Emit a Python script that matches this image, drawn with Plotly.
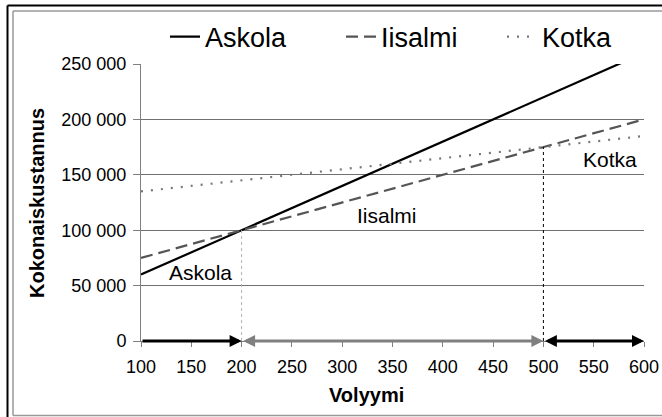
import plotly.graph_objects as go

volume = [100, 150, 200, 250, 300, 350, 400, 450, 500, 550, 600]
askola = [60000, 80000, 100000, 120000, 140000, 160000, 180000, 200000, 220000, 240000, 260000]
iisalmi = [75000, 87500, 100000, 112500, 125000, 137500, 150000, 162500, 175000, 187500, 200000]
kotka = [135000, 140000, 145000, 150000, 155000, 160000, 165000, 170000, 175000, 180000, 185000]
y_ticks = [0, 50000, 100000, 150000, 200000, 250000]
y_labels = ["0", "50 000", "100 000", "150 000", "200 000", "250 000"]
x_ticks = [100, 150, 200, 250, 300, 350, 400, 450, 500, 550, 600]

W, H = 662, 417
L, R, T, B = 141, 644, 64, 341

def px(x):
    return (x - L) / (R - L)

def py(y):
    return (B - y) / (B - T)

FONT = "Liberation Sans, Arial, sans-serif"

fig = go.Figure()
fig.add_trace(go.Scatter(x=volume, y=askola, mode="lines", name="Askola", legend="legend",
                         line=dict(color="#000000", width=2.2)))
fig.add_trace(go.Scatter(x=volume, y=iisalmi, mode="lines", name="Iisalmi", legend="legend2",
                         line=dict(color="#555555", width=2.2, dash="12px,6px")))
fig.add_trace(go.Scatter(x=volume, y=kotka, mode="lines", name="Kotka", legend="legend3",
                         line=dict(color="#777777", width=2.2, dash="2px,8px")))

shapes = [
    dict(type="line", xref="x", yref="y", x0=200, x1=200, y0=0, y1=100000,
         line=dict(color="#b0b0b0", width=1, dash="dot")),
    dict(type="line", xref="x", yref="y", x0=500, x1=500, y0=0, y1=175000,
         line=dict(color="#000000", width=1, dash="dot")),
    dict(type="line", xref="paper", yref="paper", x0=px(7.5), x1=px(700), y0=py(5.5), y1=py(5.5),
         line=dict(color="#000000", width=2)),
    dict(type="line", xref="paper", yref="paper", x0=px(7.5), x1=px(7.5), y0=py(5.5), y1=py(440),
         line=dict(color="#000000", width=2)),
    dict(type="line", xref="paper", yref="paper", x0=px(13), x1=px(700), y0=py(11), y1=py(11),
         line=dict(color="#999999", width=1.5)),
    dict(type="line", xref="paper", yref="paper", x0=px(13), x1=px(13), y0=py(11), y1=py(415.5),
         line=dict(color="#999999", width=1.5)),
    dict(type="line", xref="paper", yref="paper", x0=px(13), x1=px(700), y0=py(415.5), y1=py(415.5),
         line=dict(color="#999999", width=1.5)),
]

annotations = [
    dict(x=200, y=0, ax=100, ay=0, xref="x", yref="y", axref="x", ayref="y", text="",
         showarrow=True, arrowhead=2, arrowsize=0.8, arrowwidth=3, arrowcolor="#000000",
         arrowside="end"),
    dict(x=500, y=0, ax=200, ay=0, xref="x", yref="y", axref="x", ayref="y", text="",
         showarrow=True, arrowhead=2, arrowsize=0.8, arrowwidth=3, arrowcolor="#808080",
         arrowside="end+start"),
    dict(x=600, y=0, ax=500, ay=0, xref="x", yref="y", axref="x", ayref="y", text="",
         showarrow=True, arrowhead=2, arrowsize=0.8, arrowwidth=3, arrowcolor="#000000",
         arrowside="end+start"),
    dict(x=159, y=62000, xref="x", yref="y", text="Askola", showarrow=False,
         font=dict(family=FONT, size=21, color="#000000")),
    dict(x=345, y=113500, xref="x", yref="y", text="Iisalmi", showarrow=False,
         font=dict(family=FONT, size=21, color="#000000")),
    dict(x=566, y=164000, xref="x", yref="y", text="Kotka", showarrow=False,
         font=dict(family=FONT, size=21, color="#000000")),
    dict(x=px(366), y=py(395), xref="paper", yref="paper", text="<b>Volyymi</b>",
         xanchor="center", yanchor="middle",
         showarrow=False, font=dict(family=FONT, size=20, color="#000000")),
    dict(x=px(37), y=py(203), xref="paper", yref="paper", text="<b>Kokonaiskustannus</b>",
         xanchor="center", yanchor="middle",
         showarrow=False, textangle=-90, font=dict(family=FONT, size=20, color="#000000")),
]

def legend_at(xpix):
    return dict(orientation="h", xref="container", yref="container",
                x=xpix / W, y=1 - 37 / H, xanchor="left", yanchor="middle",
                font=dict(family=FONT, size=27, color="#000000"),
                bgcolor="rgba(0,0,0,0)", borderwidth=0)

fig.update_layout(
    width=W, height=H, autosize=False,
    margin=dict(l=L, r=W - R, t=T, b=H - B, pad=0, autoexpand=False),
    paper_bgcolor="#ffffff", plot_bgcolor="#ffffff",
    font=dict(family=FONT, size=18, color="#000000"),
    showlegend=True,
    legend=legend_at(165),
    legend2=legend_at(341),
    legend3=legend_at(502),
    shapes=shapes,
    annotations=annotations,
    xaxis=dict(range=[100, 600], tickvals=x_ticks, ticks="outside", ticklen=5,
               tickcolor="#808080", showline=True, linecolor="#808080", linewidth=1,
               showgrid=False, zeroline=False, ticklabelstandoff=4,
               tickfont=dict(family=FONT, size=18, color="#000000")),
    yaxis=dict(range=[0, 250000], tickvals=y_ticks, ticktext=y_labels, ticks="outside",
               ticklen=7, tickcolor="#808080", showline=True, linecolor="#808080", linewidth=1,
               showgrid=True, gridcolor="#707070", gridwidth=1, zeroline=False,
               ticklabelstandoff=3,
               tickfont=dict(family=FONT, size=18, color="#000000")),
)

fig.write_html("out.html")
